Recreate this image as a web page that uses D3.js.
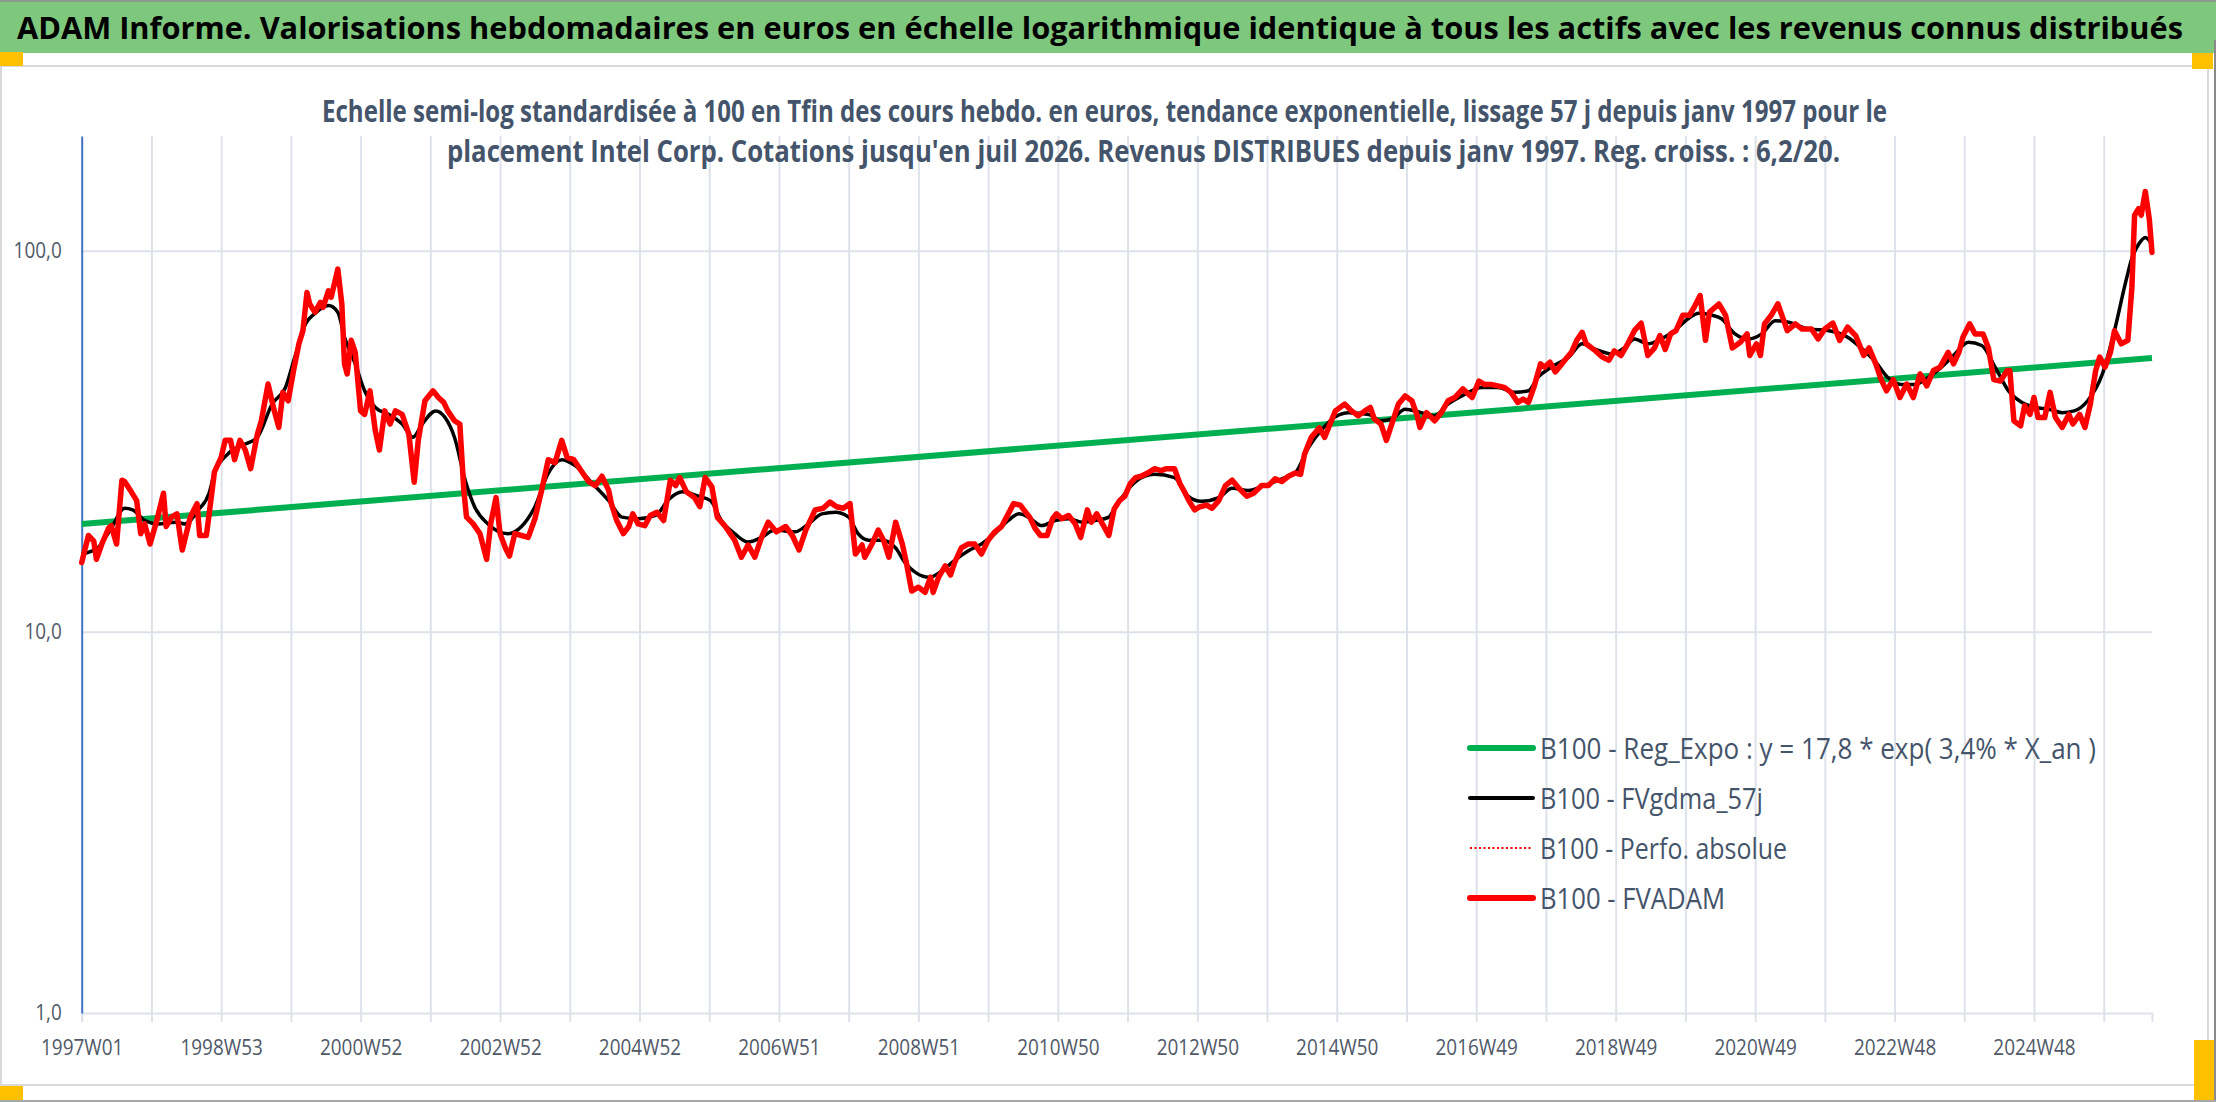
<!DOCTYPE html>
<html>
<head>
<meta charset="utf-8">
<script src="https://cdn.jsdelivr.net/npm/d3@7"></script>
<style>
  html, body { margin: 0; padding: 0; background: #fff; }
  svg { display: block; font-family: "Open Sans", "Noto Sans", sans-serif; }
</style>
</head>
<body>
<svg id="chart" width="2216" height="1102"></svg>
<script>
// week index 0 = 1997W01, last quote = juil 2026
const lastWeek = 1544;

// x-axis labels, one every 104 weeks
const xLabels = ["1997W01", "1998W53", "2000W52", "2002W52", "2004W52", "2006W51", "2008W51",
  "2010W50", "2012W50", "2014W50", "2016W49", "2018W49", "2020W49", "2022W48", "2024W48"];
const yTicks = [1, 10, 100];

// B100 - FVADAM (red)
const redWeeks = [0, 5, 9, 11, 15, 20, 22, 26, 30, 32, 37, 41, 44, 47, 51, 56, 61, 63, 67, 71, 75, 81, 86, 88, 93,
  97, 99, 104, 107, 111, 114, 118, 122, 126, 131, 134, 139, 143, 147, 150, 154, 158, 162, 165, 168, 170, 174, 178,
  180, 184, 186, 189, 191, 194, 196, 198, 201, 204, 208, 211, 215, 219, 222, 226, 230, 234, 239, 244, 248, 251,
  256, 262, 266, 270, 273, 278, 282, 285, 287, 292, 297, 302, 305, 309, 312, 316, 319, 323, 328, 333, 338, 343,
  348, 353, 358, 362, 367, 373, 378, 383, 388, 393, 395, 399, 404, 408, 411, 415, 420, 424, 429, 434, 439, 443,
  446, 451, 457, 461, 465, 470, 474, 480, 487, 492, 497, 502, 507, 512, 518, 525, 530, 535, 540, 547, 553, 558,
  563, 568, 573, 577, 582, 584, 589, 594, 598, 602, 607, 612, 615, 619, 624, 629, 633, 635, 639, 644, 648, 651,
  656, 661, 666, 671, 676, 681, 686, 691, 695, 700, 704, 707, 711, 715, 720, 724, 727, 731, 736, 741, 745, 750,
  753, 757, 762, 766, 770, 774, 778, 782, 786, 790, 795, 800, 805, 809, 815, 819, 823, 826, 830, 834, 839, 843,
  848, 853, 858, 863, 869, 874, 880, 885, 890, 895, 900, 905, 909, 912, 917, 923, 927, 931, 935, 942, 947, 952,
  957, 961, 964, 969, 973, 977, 982, 987, 992, 996, 998, 1003, 1009, 1014, 1019, 1024, 1030, 1037, 1042, 1046,
  1051, 1056, 1061, 1066, 1071, 1075, 1079, 1083, 1088, 1091, 1095, 1099, 1104, 1108, 1111, 1115, 1119, 1122,
  1129, 1134, 1139, 1143, 1148, 1153, 1158, 1163, 1168, 1173, 1177, 1181, 1185, 1189, 1194, 1199, 1203, 1207,
  1211, 1214, 1221, 1226, 1231, 1237, 1242, 1244, 1249, 1252, 1255, 1260, 1265, 1272, 1278, 1283, 1290, 1295,
  1300, 1306, 1311, 1317, 1323, 1329, 1333, 1338, 1342, 1346, 1351, 1356, 1361, 1366, 1371, 1376, 1381, 1386,
  1392, 1396, 1400, 1403, 1408, 1412, 1418, 1422, 1426, 1431, 1436, 1438, 1441, 1446, 1449, 1453, 1456, 1459,
  1464, 1468, 1472, 1477, 1482, 1485, 1490, 1494, 1498, 1502, 1505, 1509, 1513, 1516, 1521, 1526, 1529, 1531,
  1534, 1536, 1539, 1542, 1544];
const redValues = [15.2, 17.9, 17.3, 15.5, 17.0, 18.7, 19.0, 17.0, 25.0, 24.8, 23.3, 22.1, 18.1, 19.2, 17.0, 19.6,
  23.1, 18.9, 20.0, 20.4, 16.4, 20.0, 21.7, 17.9, 17.9, 23.1, 26.3, 28.7, 31.8, 31.8, 28.3, 31.8, 30.0, 26.8, 33.0,
  35.8, 44.7, 38.8, 34.4, 42.5, 40.4, 48.5, 57.0, 61.7, 77.7, 72.5, 69.0, 73.2, 71.0, 78.5, 75.5, 83.4, 89.5, 72.5,
  50.5, 47.5, 58.2, 54.1, 38.0, 37.2, 42.9, 33.7, 30.0, 38.0, 35.1, 38.0, 37.2, 33.0, 24.7, 31.8, 40.4, 42.9, 41.2,
  40.0, 38.0, 35.8, 35.1, 23.5, 20.0, 19.2, 18.1, 15.5, 19.2, 22.5, 18.1, 16.6, 15.8, 18.1, 17.9, 17.7, 19.8, 23.5,
  28.3, 27.8, 31.8, 28.7, 28.3, 26.3, 24.8, 24.2, 25.6, 23.5, 21.7, 19.6, 18.1, 18.9, 20.4, 19.2, 19.0, 20.2, 20.6,
  19.6, 25.0, 24.2, 25.4, 23.3, 22.5, 21.3, 25.4, 24.0, 20.0, 18.9, 17.4, 15.7, 16.9, 15.7, 17.7, 19.4, 18.3, 18.9,
  17.9, 16.4, 18.5, 20.9, 21.1, 21.9, 21.3, 21.1, 21.7, 16.0, 16.9, 15.7, 16.9, 18.5, 17.4, 15.7, 19.4, 17.0, 15.2,
  12.8, 13.1, 12.7, 13.9, 12.7, 13.9, 14.9, 14.1, 15.2, 16.6, 17.0, 17.0, 16.0, 17.4, 18.3, 18.9, 20.4, 21.7, 21.5,
  20.6, 20.0, 18.7, 17.9, 17.9, 19.8, 20.4, 19.8, 20.2, 19.2, 17.7, 20.9, 19.4, 20.4, 19.0, 17.9, 21.0, 22.1, 22.7,
  24.5, 25.4, 25.6, 26.1, 26.8, 26.5, 26.8, 26.8, 24.5, 23.1, 22.0, 20.9, 21.3, 21.5, 21.1, 22.1, 24.2, 25.0, 23.8,
  22.7, 23.1, 24.2, 24.2, 25.2, 24.8, 25.6, 26.1, 25.9, 29.3, 32.4, 34.3, 32.4, 35.1, 38.0, 39.6, 38.0, 36.9, 38.0,
  38.8, 36.2, 35.1, 31.8, 35.1, 39.6, 41.6, 40.4, 36.9, 34.4, 37.6, 35.8, 37.6, 40.4, 41.2, 43.4, 41.2, 45.5, 44.6,
  44.6, 44.2, 43.8, 42.5, 40.0, 40.8, 40.0, 43.8, 50.5, 49.5, 51.0, 48.1, 50.5, 52.6, 54.1, 58.2, 61.1, 57.0, 54.6,
  52.6, 51.6, 54.6, 53.1, 57.0, 61.7, 64.6, 53.1, 55.6, 59.9, 55.1, 60.5, 61.7, 67.7, 67.7, 71.6, 76.3, 58.2, 69.0,
  72.5, 67.7, 55.6, 57.5, 60.5, 53.1, 57.0, 53.1, 64.3, 67.7, 72.5, 61.7, 64.3, 62.3, 62.3, 58.7, 62.3, 64.6, 58.2,
  63.0, 59.9, 53.1, 55.6, 50.5, 45.9, 42.9, 45.9, 41.2, 44.7, 41.2, 47.5, 44.2, 48.5, 49.5, 54.1, 50.5, 54.1, 59.3,
  64.3, 60.5, 60.5, 55.6, 45.9, 45.5, 48.5, 48.5, 35.8, 34.7, 39.2, 37.2, 41.2, 36.5, 36.5, 42.5, 36.5, 34.4, 37.2,
  35.1, 37.2, 34.4, 39.6, 48.5, 52.6, 49.5, 54.1, 61.7, 57.0, 58.2, 80.1, 124, 129, 124, 143, 121, 99];

// B100 - FVgdma_57j (black, smoothed)
const blackWeeks = [0, 12, 22, 32, 38, 47, 57, 70, 77, 87, 95, 99, 109, 122, 131, 142, 152, 159, 167, 174, 184, 191,
  196, 204, 211, 219, 229, 239, 247, 254, 264, 271, 278, 286, 293, 303, 318, 328, 338, 348, 358, 368, 380, 393, 403,
  415, 428, 438, 448, 460, 469, 477, 487, 497, 507, 517, 532, 542, 552, 562, 572, 579, 587, 597, 607, 614, 622, 632,
  642, 651, 661, 671, 681, 691, 699, 706, 716, 726, 736, 746, 756, 766, 771, 786, 800, 815, 825, 835, 848, 858, 870,
  882, 895, 905, 915, 925, 935, 945, 960, 969, 977, 987, 999, 1009, 1019, 1031, 1044, 1056, 1069, 1079, 1086, 1096,
  1109, 1119, 1129, 1141, 1151, 1158, 1168, 1178, 1188, 1198, 1206, 1216, 1223, 1233, 1243, 1253, 1263, 1273, 1288,
  1303, 1317, 1327, 1338, 1347, 1357, 1367, 1377, 1387, 1397, 1407, 1417, 1427, 1437, 1447, 1457, 1467, 1477, 1486,
  1496, 1507, 1516, 1524, 1529, 1534, 1539, 1544];
const blackValues = [16.0, 16.6, 18.7, 21.1, 20.9, 19.6, 19.2, 19.4, 19.2, 20.9, 23.1, 26.1, 29.3, 31.1, 32.4, 39.6,
  43.8, 52.7, 64.3, 68.5, 71.8, 69.0, 59.3, 50.5, 42.9, 38.8, 37.2, 35.1, 32.4, 35.1, 38.0, 36.5, 32.4, 25.0, 21.3,
  19.2, 18.1, 18.9, 21.3, 26.1, 28.3, 27.3, 24.7, 22.1, 20.0, 19.8, 20.2, 22.3, 23.3, 22.7, 22.1, 19.6, 18.1, 17.2,
  17.7, 18.5, 18.3, 19.2, 20.4, 20.6, 20.0, 18.1, 17.4, 17.4, 16.6, 15.2, 14.3, 13.9, 14.5, 15.4, 16.3, 17.0, 18.1,
  19.6, 20.4, 20.0, 19.0, 19.6, 19.8, 19.4, 19.6, 20.0, 21.3, 24.8, 25.9, 25.4, 22.7, 22.0, 22.5, 23.8, 23.5, 24.2,
  25.2, 26.1, 30.5, 34.0, 36.7, 37.6, 37.2, 35.8, 36.2, 38.4, 37.6, 36.9, 39.6, 41.9, 43.8, 43.8, 42.5, 42.9, 46.5,
  49.5, 52.6, 57.0, 55.1, 53.6, 55.8, 58.7, 57.0, 58.7, 61.7, 66.3, 68.5, 67.7, 66.3, 60.5, 58.7, 60.5, 65.5, 64.9,
  62.3, 61.7, 59.3, 55.6, 51.0, 46.5, 44.6, 44.6, 46.5, 49.5, 53.6, 57.5, 56.4, 49.5, 42.9, 40.0, 38.8, 38.4, 37.6,
  38.0, 40.4, 47.5, 61.7, 81.7, 95.5, 104, 108.4, 104];

// B100 - Reg_Expo (green, straight in log scale): ends
const greenWeeks = [0, lastWeek];
const greenValues = [19.2, 52.3];

const legendItems = [
  { label: "B100 - Reg_Expo : y = 17,8 * exp( 3,4% *  X_an )", color: "#00b050", width: 6, dash: null, len: 556 },
  { label: "B100 - FVgdma_57j", color: "#000000", width: 4, dash: null, len: 223 },
  { label: "B100 - Perfo. absolue", color: "#ff0000", width: 2, dash: "2,2.5", len: 247 },
  { label: "B100 - FVADAM", color: "#ff0000", width: 6, dash: null, len: 185 }
];

const svg = d3.select("#chart");
const W = 2216, H = 1102;
const plot = { left: 81.7, right: 2152, top: 136, bottom: 1013 };

// tall narrow text, like the stretched screenshot: smaller font, stretched vertically
function tallText(sel, x, y, size, len, txt) {
    return sel.append("text")
        .attr("transform", `translate(${x},${y}) scale(1,1.25)`)
        .attr("font-size", size / 1.25)
        .attr("textLength", len).attr("lengthAdjust", "spacingAndGlyphs")
        .text(txt);
}

// header bar
svg.append("rect").attr("x", 0).attr("y", 0).attr("width", W).attr("height", 2).attr("fill", "#8c9c8c");
svg.append("rect").attr("x", 0).attr("y", 2).attr("width", W).attr("height", 51).attr("fill", "#7ec87e");
tallText(svg, 17, 39, 30, 2166,
    "ADAM Informe. Valorisations hebdomadaires en euros en échelle logarithmique identique à tous les actifs avec les revenus connus distribués")
    .attr("font-weight", "bold").attr("fill", "#000");

// chart frame
svg.append("rect").attr("x", 1).attr("y", 66).attr("width", 2207).attr("height", 1019)
    .attr("fill", "#fff").attr("stroke", "#d9d9d9").attr("stroke-width", 2);

// little orange markers at the corners
const marks = [[0, 52, 23, 14], [2192, 53, 21, 16], [0, 1086, 23, 14], [2194, 1040, 20, 60]];
svg.selectAll("rect.mark").data(marks).enter().append("rect")
    .attr("class", "mark")
    .attr("x", d => d[0]).attr("y", d => d[1]).attr("width", d => d[2]).attr("height", d => d[3])
    .attr("fill", "#ffc000");

// window edges
svg.append("line").attr("x1", W - 1).attr("x2", W - 1).attr("y1", 40).attr("y2", H)
    .attr("stroke", "#8a8a8a").attr("stroke-width", 2);
svg.append("line").attr("x1", 0).attr("x2", W).attr("y1", H - 1).attr("y2", H - 1)
    .attr("stroke", "#a6a6a6").attr("stroke-width", 2);

// scales
const x = d3.scaleLinear().domain([0, lastWeek]).range([plot.left, plot.right]);
const y = d3.scaleLog().domain([1, 200]).range([plot.bottom, plot.top]);

const gridWeeks = d3.range(0, lastWeek + 1, 52);
const gridColor = "#dde2ea";

// vertical gridlines
svg.append("g")
    .attr("transform", `translate(0,${plot.top})`)
    .call(d3.axisBottom(x).tickValues(gridWeeks.slice(1)).tickSize(plot.bottom - plot.top).tickFormat(""))
    .call(g => g.select(".domain").remove())
    .call(g => g.selectAll("line").attr("stroke", gridColor).attr("stroke-width", 2));

// horizontal gridlines
svg.append("g")
    .attr("transform", `translate(${plot.left},0)`)
    .call(d3.axisLeft(y).tickValues([10, 100]).tickSize(-(plot.right - plot.left)).tickFormat(""))
    .call(g => g.select(".domain").remove())
    .call(g => g.selectAll("line").attr("stroke", gridColor).attr("stroke-width", 2));

// x axis
const xAxis = svg.append("g")
    .attr("transform", `translate(0,${plot.bottom})`)
    .call(d3.axisBottom(x).tickValues(gridWeeks).tickSize(9)
        .tickFormat(d => d % 104 === 0 ? xLabels[d / 104] : ""));
xAxis.select(".domain").attr("stroke", gridColor).attr("stroke-width", 2);
xAxis.selectAll("line").attr("stroke", gridColor).attr("stroke-width", 2);
xAxis.selectAll("text")
    .attr("class", "squeeze")
    .attr("y", 42).attr("dy", 0)
    .attr("font-size", 21).attr("font-family", "Open Sans, Noto Sans, sans-serif")
    .attr("fill", "#4f5968");

// y axis
const fr = d3.formatLocale({ decimal: ",", thousands: " ", grouping: [3], currency: ["", " €"] });
const yAxis = svg.append("g")
    .attr("transform", `translate(${plot.left},0)`)
    .call(d3.axisLeft(y).tickValues(yTicks).tickSize(0).tickPadding(20).tickFormat(fr.format(".1f")));
yAxis.select(".domain").attr("stroke", "#4472c4").attr("stroke-width", 2);
yAxis.selectAll("text")
    .attr("class", "squeeze")
    .attr("font-size", 21).attr("font-family", "Open Sans, Noto Sans, sans-serif")
    .attr("fill", "#4f5968");

// subtitle
tallText(svg, 322, 122, 30, 1565,
    "Echelle semi-log standardisée à 100 en Tfin des cours hebdo. en euros, tendance exponentielle, lissage 57 j depuis janv 1997 pour le")
    .attr("font-weight", "bold").attr("fill", "#44546a");
tallText(svg, 447, 162, 30, 1393,
    "placement Intel Corp. Cotations jusqu'en juil 2026. Revenus DISTRIBUES depuis janv 1997. Reg. croiss. : 6,2/20.")
    .attr("font-weight", "bold").attr("fill", "#44546a");

// series
const pts = (weeks, values) => weeks.map((w, i) => [w, values[i]]);
const line = d3.line().x(d => x(d[0])).y(d => y(d[1]));

svg.append("path")
    .attr("d", line(pts(greenWeeks, greenValues)))
    .attr("fill", "none").attr("stroke", "#00b050").attr("stroke-width", 6);

svg.append("path")
    .attr("d", line.curve(d3.curveMonotoneX)(pts(blackWeeks, blackValues)))
    .attr("fill", "none").attr("stroke", "#000").attr("stroke-width", 3.5)
    .attr("stroke-linejoin", "round");
line.curve(d3.curveLinear);

svg.append("path")
    .attr("d", line(pts(redWeeks, redValues)))
    .attr("fill", "none").attr("stroke", "#ff0000").attr("stroke-width", 2).attr("stroke-dasharray", "2,3");

svg.append("path")
    .attr("d", line(pts(redWeeks, redValues)))
    .attr("fill", "none").attr("stroke", "#ff0000").attr("stroke-width", 5.5)
    .attr("stroke-linejoin", "round").attr("stroke-linecap", "round");

// legend
const legend = svg.append("g").selectAll("g")
    .data(legendItems).enter().append("g")
    .attr("transform", (d, i) => `translate(1470,${748 + i * 50})`);
legend.append("line")
    .attr("x1", 0).attr("x2", 63).attr("y1", 0).attr("y2", 0)
    .attr("stroke", d => d.color).attr("stroke-width", d => d.width)
    .attr("stroke-dasharray", d => d.dash).attr("stroke-linecap", d => d.dash ? "butt" : "round");
legend.each(function (d) {
    tallText(d3.select(this), 70, 10.5, 30, d.len, d.label).attr("fill", "#44546a");
});

// narrow the axis labels a bit, like the original condensed font
svg.selectAll("text.squeeze").each(function () {
    const w = this.getComputedTextLength();
    if (w > 0) {
        this.setAttribute("textLength", w * 0.9);
        this.setAttribute("lengthAdjust", "spacingAndGlyphs");
    }
});
</script>
</body>
</html>
